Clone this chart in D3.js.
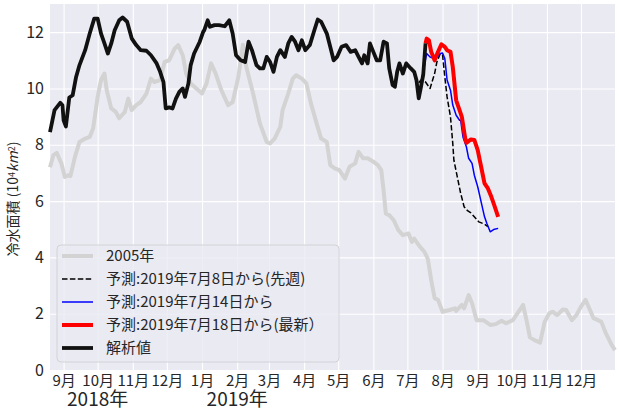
<!DOCTYPE html>
<html>
<head>
<meta charset="utf-8">
<script src="https://cdnjs.cloudflare.com/ajax/libs/d3/7.8.5/d3.min.js"></script>
<style>
	body { margin: 0; background: #fff; }
	text { font-family: "Noto Sans CJK JP", "Noto Sans", sans-serif; fill: #262626; }
</style>
</head>
<body>
<script>
var yTicks = [0, 2, 4, 6, 8, 10, 12];
var yearLabels = [['2018-10-01', '2018年'], ['2019-02-01', '2019年']];
var legendLabels = ['2005年', '予測:2019年7月8日から(先週)', '予測:2019年7月14日から', '予測:2019年7月18日から(最新）', '解析値'];

// 2005年の値を同じ暦日に重ねたもの
var year2005 = [
	['2018-08-20', 7.2], ['2018-08-23', 7.63], ['2018-08-26', 7.71], ['2018-08-30', 7.34],
	['2018-09-02', 6.86], ['2018-09-05', 6.92], ['2018-09-07', 6.89], ['2018-09-11', 7.57],
	['2018-09-15', 8.1], ['2018-09-20', 8.22], ['2018-09-24', 8.28], ['2018-09-27', 8.58],
	['2018-10-01', 9.7], ['2018-10-04', 10.3], ['2018-10-07', 10.53], ['2018-10-09', 9.94],
	['2018-10-13', 9.29], ['2018-10-17', 9.17], ['2018-10-20', 8.94], ['2018-10-25', 9.17],
	['2018-10-28', 9.64], ['2018-10-31', 9.23], ['2018-11-04', 9.41], ['2018-11-08', 9.52],
	['2018-11-13', 9.82], ['2018-11-17', 10.35], ['2018-11-20', 10.23], ['2018-11-25', 10.3],
	['2018-11-29', 10.94], ['2018-12-03', 11.0], ['2018-12-08', 11.42], ['2018-12-11', 11.54],
	['2018-12-15', 11.18], ['2018-12-18', 10.53], ['2018-12-22', 10.18], ['2018-12-27', 10.0],
	['2019-01-01', 9.82], ['2019-01-05', 10.18], ['2019-01-09', 10.89], ['2019-01-13', 10.53],
	['2019-01-18', 9.94], ['2019-01-24', 9.41], ['2019-01-28', 9.52], ['2019-02-02', 10.41],
	['2019-02-06', 11.55], ['2019-02-09', 10.77], ['2019-02-15', 9.82], ['2019-02-21', 8.76],
	['2019-02-27', 8.1], ['2019-03-02', 8.05], ['2019-03-06', 8.22], ['2019-03-11', 8.64],
	['2019-03-13', 9.23], ['2019-03-18', 9.82], ['2019-03-22', 10.35], ['2019-03-25', 10.47],
	['2019-03-30', 10.35], ['2019-04-03', 10.18], ['2019-04-07', 9.47], ['2019-04-12', 8.76],
	['2019-04-16', 8.22], ['2019-04-21', 8.1], ['2019-04-24', 7.28], ['2019-04-28', 7.16],
	['2019-05-02', 7.1], ['2019-05-07', 6.8], ['2019-05-11', 7.22], ['2019-05-16', 7.34],
	['2019-05-19', 7.75], ['2019-05-23', 7.52], ['2019-05-27', 7.52], ['2019-06-01', 7.4],
	['2019-06-05', 7.28], ['2019-06-08', 7.1], ['2019-06-10', 6.39], ['2019-06-12', 5.56],
	['2019-06-15', 5.5], ['2019-06-19', 5.32], ['2019-06-23', 4.97], ['2019-06-27', 4.79],
	['2019-07-02', 4.85], ['2019-07-05', 4.55], ['2019-07-07', 4.67], ['2019-07-12', 4.38],
	['2019-07-16', 4.2], ['2019-07-19', 3.95], ['2019-07-22', 3.19], ['2019-07-25', 2.55],
	['2019-07-28', 2.49], ['2019-08-01', 2.07], ['2019-08-07', 2.13], ['2019-08-12', 2.19],
	['2019-08-13', 2.1], ['2019-08-18', 2.31], ['2019-08-20', 2.19], ['2019-08-24', 2.66],
	['2019-08-27', 2.37], ['2019-08-31', 1.77], ['2019-09-06', 1.77], ['2019-09-12', 1.6],
	['2019-09-17', 1.63], ['2019-09-22', 1.75], ['2019-09-26', 1.66], ['2019-10-02', 1.77],
	['2019-10-06', 2.01], ['2019-10-11', 2.31], ['2019-10-14', 1.77], ['2019-10-17', 1.16],
	['2019-10-21', 1.06], ['2019-10-26', 0.97], ['2019-10-30', 1.71], ['2019-11-03', 2.01],
	['2019-11-06', 2.07], ['2019-11-10', 1.95], ['2019-11-15', 2.15], ['2019-11-18', 2.13],
	['2019-11-23', 1.77], ['2019-11-27', 1.95], ['2019-12-01', 2.25], ['2019-12-05', 2.49],
	['2019-12-09', 2.13], ['2019-12-12', 1.84], ['2019-12-16', 1.77], ['2019-12-19', 1.71],
	['2019-12-23', 1.3], ['2019-12-28', 0.89], ['2019-12-31', 0.71]
];

var fcst0708 = [
	['2019-07-08', 10.35], ['2019-07-10', 10.15], ['2019-07-13', 10.3], ['2019-07-17', 10.23],
	['2019-07-21', 10.0], ['2019-07-25', 10.53], ['2019-07-27', 10.94], ['2019-07-30', 11.24],
	['2019-08-01', 11.2], ['2019-08-03', 10.41], ['2019-08-05', 9.7], ['2019-08-08', 8.99],
	['2019-08-10', 8.05], ['2019-08-11', 7.45], ['2019-08-14', 6.86], ['2019-08-17', 6.27],
	['2019-08-20', 5.8], ['2019-08-23', 5.66], ['2019-08-26', 5.58], ['2019-08-29', 5.44],
	['2019-09-02', 5.26], ['2019-09-07', 5.18], ['2019-09-10', 5.09]
];

var fcst0714 = [
	['2019-07-14', 10.4], ['2019-07-18', 11.24], ['2019-07-21', 11.12], ['2019-07-25', 11.06],
	['2019-07-28', 11.14], ['2019-07-30', 11.24], ['2019-08-01', 11.26], ['2019-08-03', 11.06],
	['2019-08-05', 10.3], ['2019-08-08', 9.94], ['2019-08-10', 9.41], ['2019-08-13', 9.05],
	['2019-08-16', 8.87], ['2019-08-17', 8.87], ['2019-08-19', 8.28], ['2019-08-22', 7.93],
	['2019-08-24', 7.52], ['2019-08-27', 7.34], ['2019-08-29', 6.92], ['2019-09-01', 6.51],
	['2019-09-04', 5.97], ['2019-09-07', 5.44], ['2019-09-09', 5.21], ['2019-09-12', 4.91],
	['2019-09-15', 4.99], ['2019-09-19', 5.03]
];

var fcst0718 = [
	['2019-07-17', 11.6], ['2019-07-18', 11.77], ['2019-07-20', 11.71], ['2019-07-22', 11.3],
	['2019-07-25', 11.0], ['2019-07-28', 11.3], ['2019-07-31', 11.57], ['2019-08-03', 11.48],
	['2019-08-05', 11.36], ['2019-08-08', 11.3], ['2019-08-10', 10.77], ['2019-08-13', 9.58],
	['2019-08-16', 9.23], ['2019-08-18', 8.99], ['2019-08-21', 8.22], ['2019-08-22', 8.07],
	['2019-08-26', 8.19], ['2019-08-29', 8.17], ['2019-09-01', 7.81], ['2019-09-04', 7.22],
	['2019-09-07', 6.63], ['2019-09-10', 6.45], ['2019-09-13', 6.15], ['2019-09-16', 5.8],
	['2019-09-19', 5.44]
];

var analysis = [
	['2018-08-20', 8.45], ['2018-08-24', 9.23], ['2018-08-29', 9.49], ['2018-08-31', 9.4],
	['2018-09-01', 8.87], ['2018-09-03', 8.65], ['2018-09-06', 9.68], ['2018-09-09', 9.76],
	['2018-09-12', 10.41], ['2018-09-15', 10.83], ['2018-09-20', 11.36], ['2018-09-24', 11.95],
	['2018-09-28', 12.48], ['2018-10-01', 12.48], ['2018-10-04', 11.95], ['2018-10-07', 11.6],
	['2018-10-10', 11.24], ['2018-10-13', 11.6], ['2018-10-16', 12.07], ['2018-10-20', 12.42],
	['2018-10-23', 12.52], ['2018-10-27', 12.37], ['2018-10-31', 11.78], ['2018-11-04', 11.54],
	['2018-11-08', 11.36], ['2018-11-13', 11.34], ['2018-11-17', 11.18], ['2018-11-22', 10.89],
	['2018-11-25', 10.6], ['2018-11-28', 10.23], ['2018-11-30', 9.29], ['2018-12-03', 9.33],
	['2018-12-06', 9.29], ['2018-12-09', 9.64], ['2018-12-12', 9.88], ['2018-12-15', 10.0],
	['2018-12-17', 9.7], ['2018-12-20', 10.18], ['2018-12-22', 10.83], ['2018-12-25', 11.24],
	['2018-12-30', 11.66], ['2019-01-02', 12.01], ['2019-01-03', 12.07], ['2019-01-06', 12.42],
	['2019-01-08', 12.19], ['2019-01-12', 12.25], ['2019-01-16', 12.25], ['2019-01-21', 12.21],
	['2019-01-25', 12.42], ['2019-01-28', 11.95], ['2019-01-31', 11.18], ['2019-02-04', 11.0],
	['2019-02-08', 10.94], ['2019-02-11', 11.66], ['2019-02-14', 11.36], ['2019-02-18', 10.83],
	['2019-02-21', 10.71], ['2019-02-24', 10.71], ['2019-02-27', 11.12], ['2019-03-02', 10.94],
	['2019-03-05', 10.59], ['2019-03-08', 11.12], ['2019-03-11', 11.36], ['2019-03-15', 11.12],
	['2019-03-18', 11.6], ['2019-03-21', 11.83], ['2019-03-24', 11.66], ['2019-03-27', 11.36],
	['2019-03-30', 11.71], ['2019-04-02', 11.36], ['2019-04-06', 11.54], ['2019-04-10', 12.07],
	['2019-04-13', 12.45], ['2019-04-16', 12.37], ['2019-04-21', 11.95], ['2019-04-24', 11.48],
	['2019-04-27', 11.0], ['2019-04-30', 11.12], ['2019-05-04', 11.48], ['2019-05-08', 11.54],
	['2019-05-12', 11.3], ['2019-05-16', 11.36], ['2019-05-19', 11.12], ['2019-05-22', 10.89],
	['2019-05-24', 11.18], ['2019-05-27', 10.89], ['2019-05-29', 11.6], ['2019-06-01', 11.3],
	['2019-06-04', 11.0], ['2019-06-07', 11.0], ['2019-06-10', 11.66], ['2019-06-13', 11.6],
	['2019-06-15', 10.71], ['2019-06-18', 10.12], ['2019-06-20', 10.06], ['2019-06-22', 10.59],
	['2019-06-24', 10.89], ['2019-06-27', 10.53], ['2019-06-30', 10.89], ['2019-07-04', 10.71],
	['2019-07-07', 10.59], ['2019-07-09', 10.3], ['2019-07-11', 9.65], ['2019-07-13', 10.06],
	['2019-07-15', 10.5], ['2019-07-17', 11.6]
];

var width = 619,
	height = 410,
	marginLeft = 50,
	marginTop = 4,
	marginRight = 4,
	plotBottom = 370,
	parse = d3.timeParse('%Y-%m-%d');

var x = d3.scaleTime()
		.domain([parse('2018-08-20'), parse('2019-12-31')])
		.range([marginLeft, width - marginRight]),
	y = d3.scaleLinear()
		.domain([0, 13])
		.range([plotBottom, marginTop]);

var svg = d3.select('body').append('svg')
		.attr('width', width)
		.attr('height', height);

svg.append('rect')
		.attr('x', marginLeft)
		.attr('y', marginTop)
		.attr('width', width - marginRight - marginLeft)
		.attr('height', plotBottom - marginTop)
		.attr('fill', '#eaeaf2');

// grid
svg.append('g')
		.attr('transform', 'translate(0,' + plotBottom + ')')
		.call(d3.axisBottom(x).ticks(d3.timeMonth.every(1)).tickSize(-(plotBottom - marginTop)).tickFormat(''))
		.call(function(g) { g.select('.domain').remove(); })
	.selectAll('line')
		.attr('stroke', '#fff')
		.attr('stroke-width', 1.1);

svg.append('g')
		.attr('transform', 'translate(' + marginLeft + ',0)')
		.call(d3.axisLeft(y).tickValues(yTicks).tickSize(-(width - marginRight - marginLeft)).tickFormat(''))
		.call(function(g) { g.select('.domain').remove(); })
	.selectAll('line')
		.attr('stroke', '#fff')
		.attr('stroke-width', 1.1);

// tick labels
svg.append('g')
		.attr('transform', 'translate(0,' + plotBottom + ')')
		.call(d3.axisBottom(x).ticks(d3.timeMonth.every(1)).tickSize(0).tickPadding(5)
			.tickFormat(function(d) { return (d.getMonth() + 1) + '月'; }))
		.attr('font-size', 15)
		.attr('font-family', null)
		.call(function(g) { g.select('.domain').remove(); });

svg.append('g')
		.attr('transform', 'translate(' + (marginLeft - 1) + ',0)')
		.call(d3.axisLeft(y).tickValues(yTicks).tickSize(0).tickPadding(5))
		.attr('font-size', 16)
		.attr('font-family', null)
		.call(function(g) { g.select('.domain').remove(); });

svg.selectAll('.year')
		.data(yearLabels)
	.enter().append('text')
		.attr('class', 'year')
		.attr('x', function(d) { return x(parse(d[0])); })
		.attr('y', 406)
		.attr('text-anchor', 'middle')
		.attr('font-size', 19)
		.text(function(d) { return d[1]; });

var ylabel = svg.append('text')
		.attr('transform', 'translate(18,199) rotate(-90)')
		.attr('text-anchor', 'middle')
		.attr('font-size', 14);
ylabel.append('tspan').text('冷水面積 (10');
ylabel.append('tspan').attr('baseline-shift', '35%').attr('font-size', 9).text('4');
ylabel.append('tspan').attr('font-style', 'italic').text('km');
ylabel.append('tspan').attr('baseline-shift', '35%').attr('font-size', 9).text('2');
ylabel.append('tspan').text(')');

// lines, in the same order as the legend
var series = [
	{ data: year2005, color: '#d3d3d3', width: 4, dash: null },
	{ data: fcst0708, color: '#000', width: 1.5, dash: '5.5,2.4' },
	{ data: fcst0714, color: '#0000ff', width: 1.5, dash: null },
	{ data: fcst0718, color: '#ff0000', width: 4, dash: null },
	{ data: analysis, color: '#111', width: 3.8, dash: null }
];

var line = d3.line()
		.x(function(d) { return x(parse(d[0])); })
		.y(function(d) { return y(d[1]); });

svg.selectAll('.series')
		.data(series)
	.enter().append('path')
		.attr('class', 'series')
		.attr('d', function(d) { return line(d.data); })
		.attr('fill', 'none')
		.attr('stroke', function(d) { return d.color; })
		.attr('stroke-width', function(d) { return d.width; })
		.attr('stroke-dasharray', function(d) { return d.dash; })
		.attr('stroke-linejoin', 'round');

// legend
var legend = svg.append('g');

legend.append('rect')
		.attr('x', 57)
		.attr('y', 245)
		.attr('width', 282)
		.attr('height', 117)
		.attr('rx', 4)
		.attr('fill', '#eaeaf2')
		.attr('fill-opacity', 0.8)
		.attr('stroke', '#d2d2d8');

var rows = legend.selectAll('.row')
		.data(series)
	.enter().append('g')
		.attr('class', 'row')
		.attr('transform', function(d, i) { return 'translate(62,' + (256 + i * 23) + ')'; });

rows.append('line')
		.attr('x1', 0)
		.attr('x2', 31)
		.attr('stroke', function(d) { return d.color; })
		.attr('stroke-width', function(d) { return d.width; })
		.attr('stroke-dasharray', function(d) { return d.dash; });

rows.append('text')
		.attr('x', 44)
		.attr('dy', '0.35em')
		.attr('font-size', 15)
		.text(function(d, i) { return legendLabels[i]; });
</script>
</body>
</html>
